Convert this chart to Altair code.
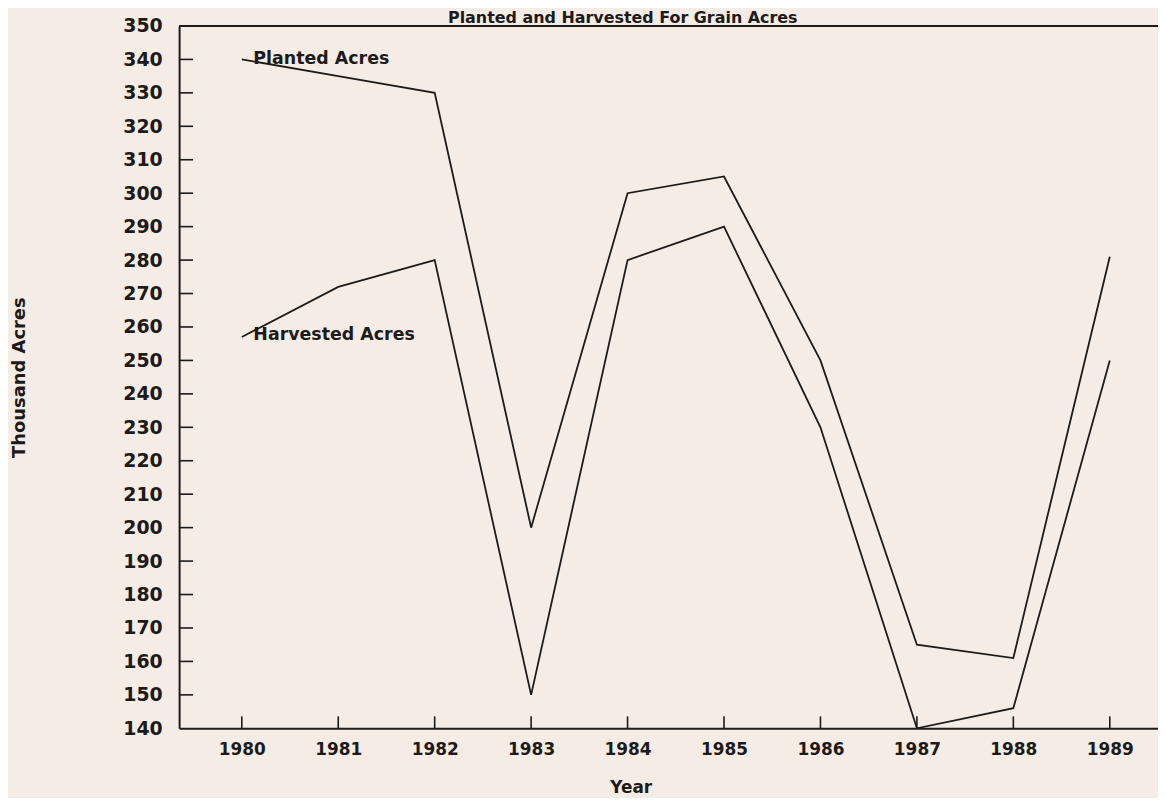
import altair as alt
import pandas as pd

# ---- data ----
years = [1980, 1981, 1982, 1983, 1984, 1985, 1986, 1987, 1988, 1989]
planted = [340, 335, 330, 200, 300, 305, 250, 165, 161, 281]
harvested = [257, 272, 280, 150, 280, 290, 230, 140, 146, 250]
y_tick_values = list(range(140, 351, 10))
inner_y_ticks = list(range(150, 341, 10))
series_names = ["Planted Acres", "Harvested Acres"]
label_x = [1980.12, 1980.12]
label_y = [340.2, 257.6]
chart_title = "Planted and Harvested For Grain Acres"

W, H = 984, 706
INK = "#1d1a1a"
FONT = "DejaVu Sans"

xs = alt.Scale(domain=[1979.35, 1989.50], nice=False, zero=False)
ys = alt.Scale(domain=[140, 350], nice=False, zero=False)

x_axis = alt.Axis(
    values=years, format="d", ticks=False, grid=False,
    labelPadding=13, labelFontSize=17, title="Year",
    titleX=454, titleY=60, titleAlign="center", titleBaseline="middle",
    titleFontSize=17)
y_axis = alt.Axis(
    values=y_tick_values, ticks=False, grid=False,
    labelPadding=17, labelFontSize=19, title="Thousand Acres",
    titleX=-160, titleY=353, titleAlign="center", titleBaseline="middle",
    titleFontSize=18)

df = pd.DataFrame({
    "Year": years * 2,
    "Acres": planted + harvested,
    "Series": [series_names[0]] * len(years) + [series_names[1]] * len(years),
})

lines = alt.Chart(df).mark_line(color=INK, strokeWidth=1.8).encode(
    x=alt.X("Year:Q", scale=xs, axis=x_axis),
    y=alt.Y("Acres:Q", scale=ys, axis=y_axis),
    detail="Series:N",
)

ytick_df = pd.DataFrame({"Acres": inner_y_ticks})
yticks = alt.Chart(ytick_df).mark_rule(color=INK, strokeWidth=1.6).encode(
    y=alt.Y("Acres:Q", scale=ys, axis=y_axis),
    x=alt.value(0), x2=alt.value(14),
)

xtick_df = pd.DataFrame({"Year": years})
xticks = alt.Chart(xtick_df).mark_rule(color=INK, strokeWidth=1.6).encode(
    x=alt.X("Year:Q", scale=xs, axis=x_axis),
    y=alt.value(H), y2=alt.value(H - 12),
)

top_rule = alt.Chart(pd.DataFrame({"k": [0]})).mark_rule(color=INK, strokeWidth=2).encode(
    x=alt.value(0), x2=alt.value(W), y=alt.value(0),
)

lab_df = pd.DataFrame({"Year": label_x, "Acres": label_y, "name": series_names})
labels = alt.Chart(lab_df).mark_text(
    align="left", baseline="middle", font=FONT, fontSize=17.5,
    fontWeight="bold", color=INK,
).encode(
    x=alt.X("Year:Q", scale=xs, axis=x_axis),
    y=alt.Y("Acres:Q", scale=ys, axis=y_axis),
    text="name:N",
)

title_df = pd.DataFrame({"t": [chart_title]})
title = alt.Chart(title_df).mark_text(
    align="center", baseline="alphabetic", font=FONT, fontSize=16,
    fontWeight="bold", color=INK,
).encode(x=alt.value(446), y=alt.value(-3), text="t:N")

chart = alt.layer(lines, yticks, xticks, labels, top_rule, title).properties(
    width=W, height=H,
    padding={"left": 172, "top": 16, "right": 0, "bottom": 68},
    autosize=alt.AutoSizeParams(type="none"),
    background="#f4ece5",
).configure_view(stroke=None).configure_axis(
    domainColor=INK, domainWidth=2, labelColor=INK, titleColor=INK,
    labelFont=FONT, titleFont=FONT, labelFontWeight="bold", titleFontWeight="bold",
)

chart.save("out.html", embed_options={"renderer": "svg", "actions": False})
